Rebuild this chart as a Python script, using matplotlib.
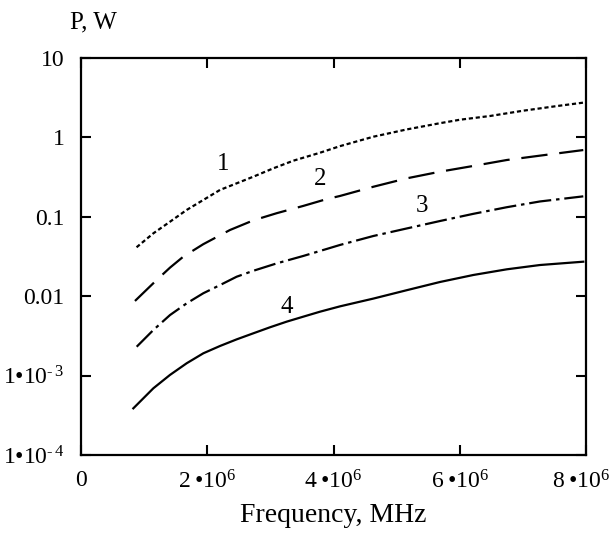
import matplotlib
matplotlib.use("Agg")
import matplotlib.pyplot as plt
import matplotlib.transforms as mtransforms
import numpy as np

plt.rcParams['font.family'] = ['Liberation Serif', 'DejaVu Serif']
plt.rcParams['mathtext.fontset'] = 'custom'
plt.rcParams['mathtext.rm'] = 'Liberation Serif'
plt.rcParams['mathtext.it'] = 'Liberation Serif:italic'
plt.rcParams['lines.scale_dashes'] = False

# Curve data (frequency in units of 1e6, power in W)
x1 = [0.88, 1.146, 1.41, 1.674, 1.938, 2.202, 2.466, 2.73, 3.047, 3.364, 3.786,
      4.103, 4.631, 5.16, 5.687, 6.004, 6.479, 7.007, 7.536, 7.957]
p1 = [0.0413, 0.0619, 0.0867, 0.122, 0.163, 0.218, 0.264, 0.320, 0.408, 0.509, 0.641,
      0.776, 1.02, 1.26, 1.51, 1.67, 1.86, 2.17, 2.48, 2.74]

x2 = [0.855, 1.199, 1.41, 1.621, 1.937, 2.36, 2.73, 3.10, 3.52, 3.89, 4.103,
      4.631, 5.16, 5.687, 6.215, 6.744, 7.27, 7.957]
p2 = [0.00871, 0.0160, 0.0229, 0.0315, 0.0452, 0.0682, 0.0902, 0.111, 0.137, 0.167, 0.183,
      0.239, 0.305, 0.370, 0.437, 0.519, 0.589, 0.693]

x3 = [0.882, 1.146, 1.41, 1.674, 1.938, 2.202, 2.466, 2.73, 3.10, 3.52, 3.89, 4.103,
      4.631, 5.16, 5.687, 6.215, 6.744, 7.27, 7.957]
p3 = [0.00231, 0.00375, 0.00579, 0.00813, 0.0109, 0.0138, 0.0176, 0.0209, 0.0259, 0.0321,
      0.0393, 0.0442, 0.0573, 0.0713, 0.0885, 0.109, 0.132, 0.156, 0.181]

x4 = [0.829, 1.146, 1.41, 1.674, 1.938, 2.202, 2.466, 2.73, 2.994, 3.258, 3.52, 3.786,
      4.103, 4.42, 4.631, 5.16, 5.687, 6.215, 6.744, 7.27, 7.957]
p4 = [0.000387, 0.000692, 0.00102, 0.00143, 0.00191, 0.00236, 0.00286, 0.00341, 0.00406,
      0.00478, 0.00552, 0.00638, 0.00745, 0.00853, 0.00933, 0.0119, 0.0151, 0.0185, 0.0218,
      0.0247, 0.0272]

curve_labels = ["1", "2", "3", "4"]
label_x = [2.245, 3.786, 5.397, 3.258]
label_y = [0.46, 0.296, 0.138, 0.00738]

xticks = [0, 2, 4, 6, 8]
xticklabels = ["0", "2\u2009•10$^{6}$", "4\u2009•10$^{6}$", "6\u2009•10$^{6}$", "8\u2009•10$^{6}$"]
yticks = [1e-4, 1e-3, 0.01, 0.1, 1, 10]
yticklabels = ["1•10$^{\\text{-}\\,4}$", "1•10$^{\\text{-}\\,3}$", "0.01", "0.1", "1", "10"]

fig = plt.figure(figsize=(6.12, 5.33), dpi=100)
ax = fig.add_axes([81/612, 1-455/533, (586-81)/612, (455-58)/533])

ax.plot(x1, p1, color='black', lw=1.6, dashes=(3.0, 2.0))
ax.plot(x2, p2, color='black', lw=1.6, dashes=(19, 8.5))
ax.plot(x3, p3, color='black', lw=1.6, dashes=(16, 3.5, 2.5, 3.5))
ax.plot(x4, p4, color='black', lw=1.6)

for t, lx, ly in zip(curve_labels, label_x, label_y):
    ax.text(lx, ly, t, fontsize=18, ha='center', va='center')

ax.set_yscale('log')
ax.set_xlim(0, 8)
ax.set_ylim(1e-4, 10)
ax.set_xticks(xticks)
ax.set_xticklabels(xticklabels, fontsize=17)
ax.set_yticks(yticks)
ax.set_yticklabels(yticklabels, fontsize=17)
ax.minorticks_off()
ax.tick_params(direction='in', length=7, width=1.5, top=True, right=True)
ax.tick_params(axis='x', pad=11)
ax.tick_params(axis='y', pad=12)
for s in ax.spines.values():
    s.set_linewidth(1.6)

# keep the last x tick label inside the figure
last = ax.get_xticklabels()[-1]
last.set_transform(last.get_transform() + mtransforms.ScaledTranslation(-5/100, 0, fig.dpi_scale_trans))

ax.set_xlabel("Frequency, MHz", fontsize=20, labelpad=7)
fig.text(93/612, 1-22/533, "P, W", fontsize=18, ha='center', va='center')

fig.savefig("out.png", dpi=100)
